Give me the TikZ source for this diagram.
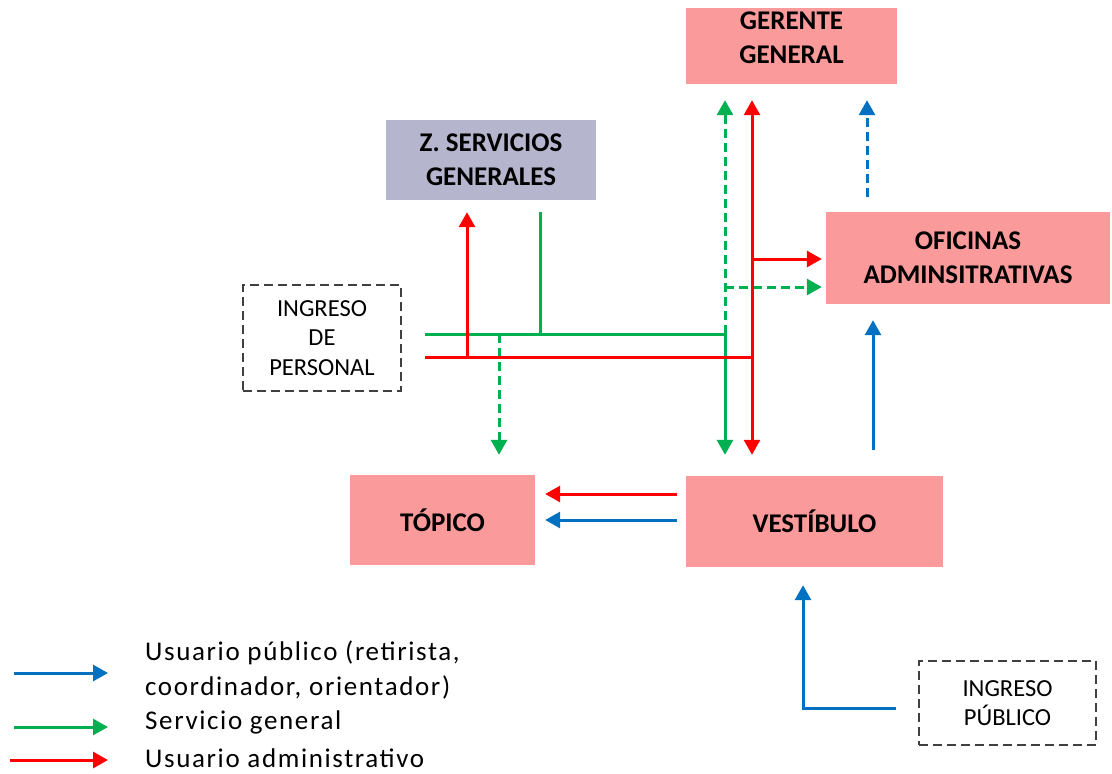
\documentclass[tikz,border=0pt]{standalone}
\usepackage{fontspec}
\setmainfont{Carlito}
\newfontfamily\leyendafont[LetterSpace=6]{Carlito}
\usetikzlibrary{arrows.meta,calc}

\definecolor{salarosa}{RGB}{250,154,154}
\definecolor{salalila}{RGB}{181,181,206}
\definecolor{rojo}{RGB}{255,0,0}
\definecolor{verde}{RGB}{0,176,80}
\definecolor{azul}{RGB}{0,112,192}
\definecolor{bordegris}{RGB}{64,64,64}

\tikzset{
	sala/.style={fill=#1, align=center, inner sep=0pt, font=\fontsize{27}{34}\selectfont\bfseries},
	ingreso/.style={draw=bordegris, line width=2pt, dash pattern=on 9pt off 5pt, align=center, inner sep=0pt, font=\fontsize{24.5}{29.5}\selectfont},
	leyenda/.style={anchor=west, align=left, inner sep=0pt, font=\leyendafont\fontsize{27}{35}\selectfont},
	linea/.style={line width=3pt, draw=#1},
	flecha/.style={line width=3pt, draw=#1, -{Triangle[length=15pt,width=16pt]}},
	trazo/.style={dash pattern=on 9pt off 5pt}
}

\begin{document}
\begin{tikzpicture}[x=1pt, y=-1pt]
		%%%%% START %%%%%
		\useasboundingbox (0, 0) rectangle (1112, 774);
		
		\node[sala=salarosa, minimum width=211pt, minimum height=76pt, text depth=16pt] (gerente) at (791.5, 46) {GERENTE\\GENERAL};
		\node[sala=salalila, minimum width=210pt, minimum height=80pt] (zserv) at (491, 160) {Z. SERVICIOS\\GENERALES};
		\node[sala=salarosa, minimum width=284pt, minimum height=92pt] (oficinas) at (968, 258) {OFICINAS\\ADMINSITRATIVAS};
		\node[sala=salarosa, minimum width=185pt, minimum height=90pt] (topico) at (442.5, 520) {TÓPICO};
		\node[sala=salarosa, minimum width=257pt, minimum height=91pt] (vestibulo) at (814.5, 521.5) {VESTÍBULO};
		
		\node[ingreso, minimum width=158pt, minimum height=106pt] (ingper) at (322, 338) {INGRESO\\DE\\PERSONAL};
		\node[ingreso, minimum width=177pt, minimum height=84pt] (ingpub) at (1007.5, 703) {INGRESO\\PÚBLICO};
		
		% cruces de las lineas
		\coordinate (vini) at (425, 334);
		\coordinate (rini) at (425, 357);
		\coordinate (vcruce) at (725, 334);
		\coordinate (rcruce) at (752, 357);
		\coordinate (xv) at (540, 334);
		\coordinate (xr) at (467, 357);
		\coordinate (xt) at (499, 334);
		\coordinate (vof) at (725, 287);
		\coordinate (rof) at (752, 259);
		\coordinate (xad) at (867, 0);
		\coordinate (xas) at (873, 0);
		\coordinate (rv) at (0, 494);
		\coordinate (av) at (0, 520);
		\coordinate (xpub) at (803, 708);
		
		% servicio general
		\draw[linea=verde] (vini) -- (vcruce);
		\draw[linea=verde] ([yshift=-12pt]zserv.south -| xv) -- (xv);
		\draw[flecha=verde, trazo] (xt) -- ([yshift=20pt]topico.north -| xt);
		\draw[flecha=verde] (vcruce) -- ([yshift=21pt]vestibulo.north -| vcruce);
		\draw[flecha=verde, trazo] (vcruce) -- ([yshift=-16pt]gerente.south -| vcruce);
		\draw[flecha=verde, trazo] (vof) -- ([xshift=-4pt]oficinas.west |- vof);
		
		% usuario administrativo
		\draw[linea=rojo] (rini) -- (rcruce);
		\draw[flecha=rojo] (xr) -- ([yshift=-12pt]zserv.south -| xr);
		\draw[flecha=rojo, {Triangle[length=15pt,width=16pt]}-{Triangle[length=15pt,width=16pt]}] ([yshift=21pt]vestibulo.north -| rcruce) -- ([yshift=-16pt]gerente.south -| rcruce);
		\draw[flecha=rojo] (rof) -- ([xshift=-4pt]oficinas.west |- rof);
		\draw[flecha=rojo] ([xshift=-9pt]vestibulo.west |- rv) -- ([xshift=10pt]topico.east |- rv);
		
		% usuario publico
		\draw[flecha=azul, trazo] ([yshift=15pt]oficinas.north -| xad) -- ([yshift=-16pt]gerente.south -| xad);
		\draw[flecha=azul] ([yshift=26pt]vestibulo.north -| xas) -- ([yshift=-16pt]oficinas.south -| xas);
		\draw[flecha=azul] ([xshift=-9pt]vestibulo.west |- av) -- ([xshift=10pt]topico.east |- av);
		\draw[flecha=azul] ([xshift=-22pt]ingpub.west |- xpub) -- (xpub) -- ([yshift=-18pt]vestibulo.south -| xpub);
		
		% leyenda
		\node[leyenda] (leyazul) at (145, 670) {Usuario público (retirista,\\coordinador, orientador)};
		\node[leyenda] (leyverde) at (145, 722) {Servicio general};
		\node[leyenda] (leyrojo) at (145, 758) {Usuario administrativo};
		\coordinate (la) at (14, 673);
		\coordinate (lv) at (14, 727);
		\coordinate (lr) at (10, 760);
		\draw[flecha=azul] (la) -- ([xshift=-37pt]leyazul.west |- la);
		\draw[flecha=verde] (lv) -- ([xshift=-37pt]leyverde.west |- lv);
		\draw[flecha=rojo] (lr) -- ([xshift=-37pt]leyrojo.west |- lr);
		
		%%%%% END %%%%%
	\end{tikzpicture}
\end{document}
